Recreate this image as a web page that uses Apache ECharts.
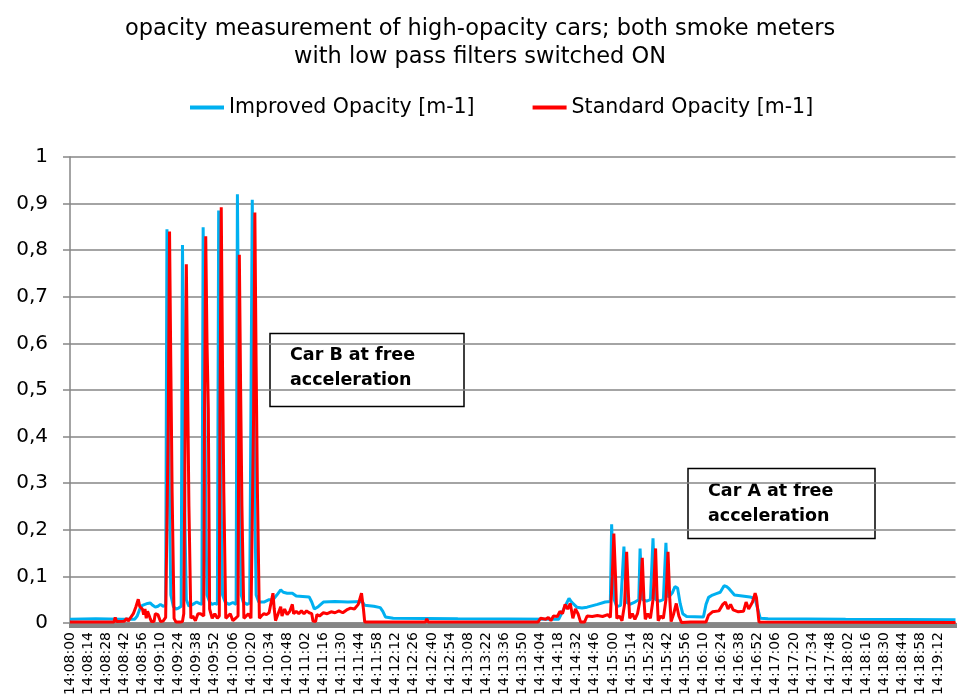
<!DOCTYPE html>
<html>
<head>
<meta charset="utf-8">
<script src="https://cdn.jsdelivr.net/npm/echarts@6/dist/echarts.min.js"></script>
<style>
html, body { margin: 0; padding: 0; background: #fff; }
#chart { width: 960px; height: 698px; }
</style>
</head>
<body>
<div id="chart"></div>
<script>
// time axis: seconds after 14:08:00, one label every 14 s
const startTime = [14, 8, 0];
const tickStep = 14;
const lastSecond = 685;
const yTicks = [0, 0.1, 0.2, 0.3, 0.4, 0.5, 0.6, 0.7, 0.8, 0.9, 1];

// [second, opacity m-1]
const improved = [
  [0,0.008],[20,0.009],[40,0.008],[50,0.008],[52,0.015],[54,0.03],[56,0.038],[58,0.04],[60,0.042],[62,0.043],[64,0.038],[66,0.034],[68,0.036],[70,0.04],[72,0.036],[74,0.038],
  [75,0.845],[76,0.6],[77,0.25],[78,0.06],[80,0.035],[82,0.03],[84,0.032],[86,0.036],
  [87,0.811],[88,0.55],[89,0.2],[90,0.05],[92,0.036],[95,0.04],[98,0.045],[100,0.042],[102,0.04],
  [103,0.849],[104,0.6],[105,0.25],[106,0.06],[108,0.045],[110,0.04],[112,0.042],[114,0.04],
  [115,0.885],[116,0.6],[117,0.25],[118,0.06],[120,0.045],[123,0.04],[126,0.044],[128.5,0.04],
  [129.5,0.92],[130.5,0.6],[131.5,0.25],[132.5,0.06],[134,0.045],[137,0.04],[139,0.043],[140,0.04],
  [141,0.908],[142,0.6],[143,0.25],[144,0.06],[146,0.045],[150,0.045],[154,0.05],[157,0.05],[160,0.06],[163,0.071],[165,0.066],[168,0.064],[172,0.064],[175,0.058],[180,0.057],[185,0.056],[187,0.045],[189,0.03],[192,0.035],[196,0.045],[205,0.046],[215,0.045],[226,0.046],[228,0.038],[235,0.036],[240,0.033],[242,0.025],[244,0.013],[250,0.01],[300,0.009],
  [378,0.008],[382,0.03],[386,0.053],[388,0.045],[392,0.034],[396,0.032],[400,0.034],[408,0.04],[414,0.045],[418,0.046],
  [419,0.212],[420,0.12],[421,0.05],[423,0.035],[426,0.038],[427.5,0.04],
  [428.5,0.164],[429.5,0.1],[430.5,0.045],[433,0.04],[437,0.045],[440,0.05],
  [441,0.16],[442,0.09],[443,0.05],[446,0.047],[449,0.05],[450,0.05],
  [451,0.182],[452,0.1],[453,0.05],[456,0.047],[459,0.05],[460,0.05],
  [461,0.172],[462,0.1],[463,0.055],[466,0.065],[468,0.078],[470,0.075],[472,0.042],[474,0.02],[477,0.014],[490,0.013],[492,0.04],[494,0.055],[497,0.06],[500,0.063],[503,0.066],[506,0.08],[508,0.078],[510,0.073],[514,0.06],[520,0.058],[526,0.056],[530,0.052],[532,0.03],[534,0.01],[540,0.009],[600,0.008],[685,0.007]
];

const standard = [
  [0,0.002],[34,0.002],[35,0.012],[36,0.003],[42,0.004],[44,0.01],[45,0.004],[47,0.012],[49,0.02],[51,0.035],[52.8,0.051],[54,0.035],[56,0.03],[57,0.018],[58,0.03],[59,0.01],[60,0.025],[61,0.028],[62,0.01],[63,0.003],[65,0.003],[66,0.02],[68,0.018],[70,0.003],[72,0.004],[74,0.012],
  [76,0.42],[77,0.84],[78,0.55],[79,0.28],[80.5,0.01],[82,0.002],[85,0.002],[87,0.003],[88,0.02],
  [89,0.38],[90,0.77],[91,0.5],[92,0.25],[93.5,0.01],[95,0.015],[97,0.005],[99,0.02],[101,0.02],[103.5,0.015],
  [104,0.42],[105,0.83],[106,0.6],[107,0.46],[108,0.03],[110,0.01],[112,0.02],[114,0.01],[115.5,0.015],
  [116,0.45],[117,0.892],[118,0.55],[119,0.28],[120.5,0.01],[122,0.01],[124,0.02],[126,0.005],[128,0.01],[130,0.015],
  [130.5,0.4],[131,0.79],[132,0.5],[133,0.25],[134.5,0.01],[136,0.01],[138,0.02],[140,0.01],[141.5,0.01],
  [142,0.44],[143,0.881],[144,0.55],[145,0.28],[146.5,0.01],[148,0.015],[150,0.02],[152,0.018],[154,0.022],[156,0.05],[157,0.064],[158,0.03],[159,0.005],[161,0.02],[163,0.035],[164,0.015],[166,0.03],[168,0.018],[170,0.025],[172,0.04],[173,0.02],[175,0.025],[177,0.02],[179,0.026],[181,0.02],[183,0.026],[185,0.022],[187,0.02],[188,0.004],[190,0.003],[191,0.018],[193,0.015],[196,0.022],[199,0.02],[202,0.024],[205,0.022],[208,0.026],[211,0.022],[214,0.028],[217,0.032],[220,0.03],[223,0.04],[225.5,0.064],[227,0.03],[228,0.002],
  [275,0.002],[276,0.009],[277,0.002],[362,0.002],[364,0.01],[368,0.008],[370,0.012],[372,0.005],[374,0.015],[377,0.014],[379,0.025],[381,0.02],[383,0.04],[385,0.03],[387,0.042],[389,0.01],[391,0.03],[393,0.02],[395,0.002],[398,0.002],[400,0.015],[404,0.014],[408,0.016],[412,0.014],[416,0.018],[418,0.012],
  [419.5,0.1],[420.7,0.192],[422,0.1],[423,0.01],[425,0.015],[427,0.005],[429,0.04],
  [430.6,0.153],[432,0.06],[433,0.01],[435,0.02],[437,0.008],[439,0.02],[441,0.05],
  [442.7,0.14],[444,0.05],[445,0.008],[447,0.02],[449,0.01],[451,0.05],
  [453,0.16],[454,0.07],[455,0.005],[457,0.015],[459,0.01],[461,0.05],
  [462.6,0.153],[464,0.05],[465,0.003],[467,0.02],[469,0.042],[471,0.015],[473,0.001],[480,0.002],[492,0.002],[494,0.017],[497,0.024],[502,0.026],[505,0.04],[507,0.045],[509,0.03],[511,0.04],[513,0.028],[517,0.024],[521,0.025],[523,0.045],[525,0.03],[528,0.045],[530,0.064],[531,0.055],[533,0.002],[685,0.001]
];

const font = '"DejaVu Sans", "Liberation Sans", Arial, sans-serif';

function timeLabel(sec) {
  if (sec % tickStep !== 0) return '';
  const t = startTime[0] * 3600 + startTime[1] * 60 + startTime[2] + sec;
  const pad = n => (n < 10 ? '0' : '') + n;
  return Math.floor(t / 3600) + ':' + pad(Math.floor(t / 60) % 60) + ':' + pad(t % 60);
}

var myChart = echarts.init(document.getElementById('chart'));
var option = {
  animation: false,
  backgroundColor: '#fff',
  title: {
    text: 'opacity measurement of high-opacity cars; both smoke meters\nwith low pass filters switched ON',
    left: 'center',
    top: 10,
    textStyle: { fontFamily: font, fontSize: 22.5, fontWeight: 'normal', color: '#000', lineHeight: 28 }
  },
  legend: {
    left: 185,
    top: 92,
    icon: 'rect',
    itemWidth: 34,
    itemHeight: 4,
    itemGap: 58,
    textStyle: { fontFamily: font, fontSize: 20.5, color: '#000' },
    data: ['Improved Opacity [m-1]', 'Standard Opacity [m-1]']
  },
  grid: { left: 70, right: 4.5, top: 157, bottom: 75 },
  xAxis: {
    type: 'value',
    min: 0,
    max: lastSecond,
    interval: tickStep,
    splitLine: { show: false },
    axisLine: { lineStyle: { color: '#868686', width: 1.5 } },
    axisTick: { show: true, length: 5, lineStyle: { color: '#868686', width: 2 } },
    minorTick: { show: true, splitNumber: 14, length: 5, lineStyle: { color: '#868686', width: 2 } },
    axisLabel: {
      rotate: 90,
      margin: 9,
      fontFamily: font,
      fontSize: 14,
      color: '#000',
      showMaxLabel: false,
      formatter: timeLabel
    }
  },
  yAxis: {
    type: 'value',
    min: yTicks[0],
    max: yTicks[yTicks.length - 1],
    interval: 0.1,
    axisLine: { show: true, lineStyle: { color: '#868686', width: 1.5 } },
    axisTick: { show: true, length: 7, lineStyle: { color: '#868686', width: 1.5 } },
    splitLine: { lineStyle: { color: '#868686', width: 1.5 } },
    axisLabel: {
      margin: 22,
      fontFamily: font,
      fontSize: 20,
      color: '#000',
      formatter: function (v) {
        return String(Math.round(v * 10) / 10).replace('.', ',');
      }
    }
  },
  graphic: [
    {
      type: 'group',
      children: [
        { type: 'rect', shape: { x: 270, y: 333.5, width: 194, height: 73 }, style: { fill: '#fff', stroke: '#000', lineWidth: 1.5 } },
        { type: 'text', style: { x: 290, y: 343, text: 'Car B at free\nacceleration', font: 'bold 17.5px ' + font, lineHeight: 25, fill: '#000' } }
      ]
    },
    {
      type: 'group',
      children: [
        { type: 'rect', shape: { x: 688, y: 468.5, width: 187, height: 70 }, style: { fill: '#fff', stroke: '#000', lineWidth: 1.5 } },
        { type: 'text', style: { x: 708, y: 479, text: 'Car A at free\nacceleration', font: 'bold 17.5px ' + font, lineHeight: 25, fill: '#000' } }
      ]
    }
  ],
  series: [
    {
      name: 'Improved Opacity [m-1]',
      type: 'line',
      showSymbol: false,
      color: '#00B0F0',
      lineStyle: { width: 3, color: '#00B0F0' },
      data: improved
    },
    {
      name: 'Standard Opacity [m-1]',
      type: 'line',
      showSymbol: false,
      color: '#FF0000',
      lineStyle: { width: 3, color: '#FF0000' },
      data: standard
    }
  ]
};
option && myChart.setOption(option);
</script>
</body>
</html>
